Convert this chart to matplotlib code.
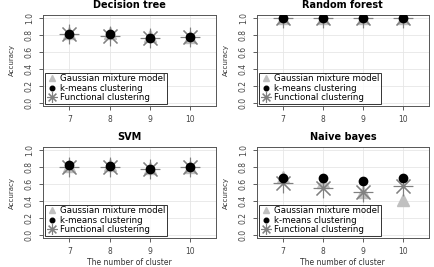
import numpy as np
import matplotlib.pyplot as plt

# Число кластеров
clusters = [7, 8, 9, 10]

# Точность по методам
dt_gmm = [0.82, 0.82, 0.79, 0.78]
dt_km = [0.815, 0.81, 0.77, 0.775]
dt_fc = [0.81, 0.79, 0.77, 0.78]

rf_gmm = [1.0, 1.0, 1.0, 1.0]
rf_km = [1.0, 1.0, 1.0, 1.0]
rf_fc = [1.0, 1.0, 1.0, 1.0]

svm_gmm = [0.82, 0.83, 0.79, 0.80]
svm_km = [0.83, 0.82, 0.78, 0.80]
svm_fc = [0.81, 0.81, 0.78, 0.80]

nb_gmm = [0.68, 0.63, 0.51, 0.41]
nb_km = [0.67, 0.67, 0.64, 0.67]
nb_fc = [0.62, 0.55, 0.51, 0.58]

titles = ["Decision tree", "Random forest", "SVM", "Naive bayes"]
data = [(dt_gmm, dt_km, dt_fc), (rf_gmm, rf_km, rf_fc),
        (svm_gmm, svm_km, svm_fc), (nb_gmm, nb_km, nb_fc)]

# Положение осей [left, bottom, width, height]
pos = [[0.099, 0.603, 0.399, 0.341], [0.592, 0.603, 0.396, 0.341],
       [0.099, 0.108, 0.399, 0.341], [0.592, 0.108, 0.396, 0.341]]

fig = plt.figure(figsize=(4.34, 2.67), dpi=100)
star = (8, 2, 0)

for k in range(4):
    ax = fig.add_axes(pos[k])
    gmm, km, fc = data[k]
    ax.plot(clusters, gmm, ls='none', marker='^', ms=9, color='#c0c0c0',
            label="Gaussian mixture model")
    ax.plot(clusters, km, ls='none', marker='o', ms=6, color='black',
            label="k-means clustering", zorder=4)
    ax.plot(clusters, fc, ls='none', marker=star, ms=14, mew=0.8, color='#808080',
            label="Functional clustering")

    ax.set_xlim(6.34, 10.66)
    ax.set_ylim(-0.04, 1.04)
    ax.set_xticks(clusters)
    ax.set_yticks([0.0, 0.2, 0.4, 0.6, 0.8, 1.0])
    ax.set_yticklabels(["0.0", "0.2", "0.4", "0.6", "0.8", "1.0"],
                       rotation=90, va='center')
    ax.tick_params(labelsize=5.5, colors='#444444', length=3, width=0.6)
    ax.grid(color='#e6e6e6', lw=0.6)
    ax.set_axisbelow(True)
    for s in ax.spines.values():
        s.set_color('#555555')
        s.set_linewidth(0.7)
    ax.set_title(titles[k], fontsize=7, fontweight='bold', pad=5)
    ax.set_ylabel("Accuracy", fontsize=5, color='#333333', labelpad=7)
    if k >= 2:
        ax.set_xlabel("The number of cluster", fontsize=5.5, color='#333333', labelpad=1)
    leg = ax.legend(loc='lower left', fontsize=6.2, frameon=True, fancybox=False,
                    edgecolor='black', borderpad=0.2, labelspacing=0.05,
                    handletextpad=0.3, handlelength=1.2, borderaxespad=0.25,
                    markerscale=0.55)
    leg.get_frame().set_linewidth(0.7)

plt.savefig("out.png", dpi=100)
